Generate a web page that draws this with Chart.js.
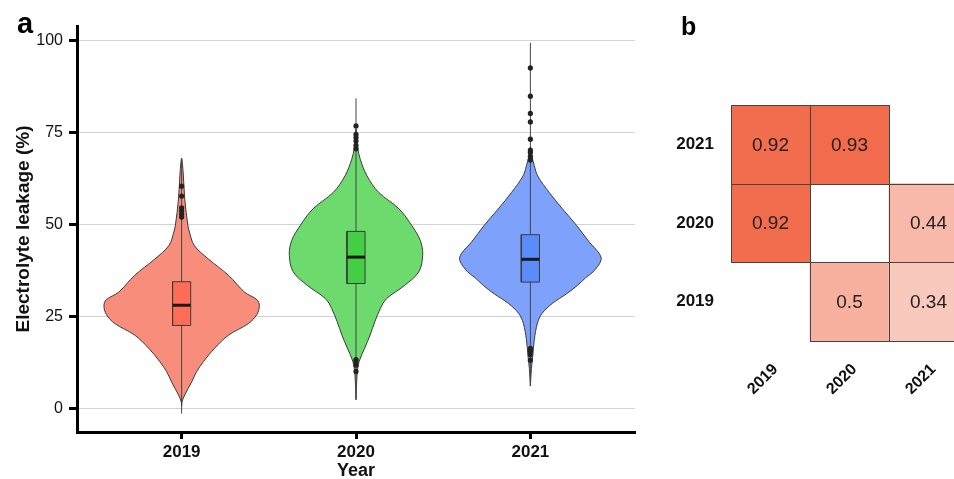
<!DOCTYPE html>
<html>
<head>
<meta charset="utf-8">
<script src="https://cdn.jsdelivr.net/npm/chart.js@4.4.1/dist/chart.umd.min.js"></script>
<style>
  html, body { margin: 0; padding: 0; background: #fff; }
  #wrap { position: relative; width: 954px; height: 479px; overflow: hidden; }
  #violin { position: absolute; left: 0; top: 0; }
  #heat { position: absolute; left: 660px; top: 0; }
</style>
</head>
<body>
<div id="wrap">
  <canvas id="violin" width="660" height="479"></canvas>
  <canvas id="heat" width="308" height="479"></canvas>
</div>
<script>
var years = ['2019', '2020', '2021'];
var yTicks = [0, 25, 50, 75, 100];

// violin outlines: leakage value -> relative density (1 = full half width)
var violinY2019 = [0.5, 1.8, 3.6, 7.2, 9.9, 12.7, 16.3, 19.9, 23, 25.5, 27.9, 29.5, 31.6, 36.1, 40.6, 44.3, 47.9, 49.7, 56.9, 64, 68];
var density2019 = [0, 0.006, 0.04, 0.13, 0.19, 0.28, 0.42, 0.6, 0.85, 0.96, 0.99, 0.96, 0.8, 0.6, 0.34, 0.16, 0.1, 0.08, 0.04, 0.02, 0];
var violinY2020 = [2.3, 9, 12.7, 16.3, 19.9, 23.5, 27.1, 29.8, 33.4, 37.1, 41.6, 45.6, 49.7, 54.2, 58.7, 63.2, 67.7, 71, 76];
var density2020 = [0, 0.013, 0.04, 0.11, 0.18, 0.24, 0.31, 0.39, 0.62, 0.8, 0.85, 0.82, 0.71, 0.55, 0.29, 0.14, 0.055, 0.02, 0];
var violinY2021 = [6, 10.8, 14.1, 18.6, 23.1, 25.8, 28.5, 31.1, 33.4, 35.6, 37.1, 40.2, 42, 45.2, 49.7, 54.2, 58.7, 63.2, 66, 68.5, 71];
var density2021 = [0, 0.013, 0.03, 0.05, 0.09, 0.15, 0.28, 0.46, 0.6, 0.71, 0.8, 0.9, 0.88, 0.75, 0.59, 0.41, 0.24, 0.093, 0.05, 0.02, 0];

// boxplot stats per year
var boxQ1 = [22.5, 33.9, 34.3];
var boxMedian = [28, 41.1, 40.5];
var boxQ3 = [34.4, 48.1, 47.2];
var whiskerLow = [-1.5, 2.3, 6];
var whiskerHigh = [68, 84.3, 99.4];
var outliers2019 = [52, 52.8, 53.7, 54.5, 57.7, 60.4];
var outliers2020 = [10, 11.7, 12.7, 13.2, 70.6, 71.5, 72.7, 73.6, 74.5, 76.8];
var outliers2021 = [13, 14.5, 15.5, 16.3, 67.5, 68.5, 69.6, 70.2, 73.2, 77.9, 80.2, 84.9, 92.6];

// correlation matrix (panel b), rows bottom to top
var heatRow2019 = [null, 0.5, 0.34];
var heatRow2020 = [0.92, null, 0.44];
var heatRow2021 = [0.92, 0.93, null];

var FONT = "'Liberation Sans', Arial, sans-serif";
var VIOLIN_HALF = 0.45;
var BOX_HALF = 0.052;
var violinFill = ['#F98D7B', '#6CDA6C', '#7EA1FB'];
var boxFill = ['#FF6D56', '#43CF43', '#5B8CFB'];

var violinYs = [violinY2019, violinY2020, violinY2021];
var densities = [density2019, density2020, density2021];
var outliers = [outliers2019, outliers2020, outliers2021];

function violinPoints(center, ys, dens) {
    var pts = [];
    for (var i = 0; i < ys.length; i++) pts.push({x: center + dens[i] * VIOLIN_HALF, y: ys[i]});
    for (var j = ys.length - 2; j >= 0; j--) pts.push({x: center - dens[j] * VIOLIN_HALF, y: ys[j]});
    return pts;
}

var datasets = [];
years.forEach(function(y, i) {
    var c = i + 1;
    datasets.push({
        type: 'line', order: 5, data: violinPoints(c, violinYs[i], densities[i]),
        borderColor: '#3a3a3a', borderWidth: 1, backgroundColor: violinFill[i],
        fill: 'shape', tension: 0.35, pointRadius: 0
    });
    datasets.push({
        type: 'line', order: 4,
        data: [{x: c, y: whiskerLow[i]}, {x: c, y: whiskerHigh[i]}],
        borderColor: '#444', borderWidth: 1, pointRadius: 0, fill: false
    });
    datasets.push({
        type: 'line', order: 3,
        data: [{x: c - BOX_HALF, y: boxQ1[i]}, {x: c + BOX_HALF, y: boxQ1[i]},
               {x: c + BOX_HALF, y: boxQ3[i]}, {x: c - BOX_HALF, y: boxQ3[i]},
               {x: c - BOX_HALF, y: boxQ1[i]}],
        borderColor: '#3a3a3a', borderWidth: 1, backgroundColor: boxFill[i],
        fill: 'shape', tension: 0, pointRadius: 0
    });
    datasets.push({
        type: 'line', order: 2,
        data: [{x: c - BOX_HALF, y: boxMedian[i]}, {x: c + BOX_HALF, y: boxMedian[i]}],
        borderColor: '#1a1a1a', borderWidth: 3, pointRadius: 0, fill: false
    });
    datasets.push({
        type: 'scatter', order: 1,
        data: outliers[i].map(function(v) { return {x: c, y: v}; }),
        pointRadius: 2.6, pointBackgroundColor: '#222', pointBorderWidth: 0
    });
});

function panelLabel(text, x, y, size) {
    return {
        id: 'panel' + text,
        afterDraw: function(chart) {
            var ctx = chart.ctx;
            ctx.save();
            ctx.font = 'bold ' + size + 'px ' + FONT;
            ctx.fillStyle = '#000';
            ctx.textBaseline = 'alphabetic';
            ctx.fillText(text, x, y);
            ctx.restore();
        }
    };
}

new Chart(document.getElementById('violin'), {
    type: 'scatter',
    data: { datasets: datasets },
    options: {
        responsive: false,
        animation: false,
        layout: { padding: { top: 26, right: 25, left: 0, bottom: 0 }, autoPadding: false },
        plugins: { legend: { display: false }, tooltip: { enabled: false } },
        scales: {
            x: {
                type: 'linear', min: 0.4, max: 3.6,
                afterBuildTicks: function(s) { s.ticks = years.map(function(y, i) { return {value: i + 1}; }); },
                afterFit: function(s) { s.height = 47; },
                ticks: {
                    callback: function(v) { return years[v - 1]; },
                    font: { family: FONT, size: 17, weight: 'bold' }, color: '#111', padding: 3, maxRotation: 0
                },
                grid: { drawOnChartArea: false, drawTicks: true, tickLength: 7, tickWidth: 3, tickColor: '#000' },
                border: { display: true, color: '#000', width: 3 },
                title: { display: true, text: 'Year', font: { family: FONT, size: 18, weight: 'bold' }, color: '#111', padding: { top: 0, bottom: -3 } }
            },
            y: {
                min: -6.5, max: 104,
                afterBuildTicks: function(s) { s.ticks = yTicks.map(function(v) { return {value: v}; }); },
                afterFit: function(s) { s.width = 77; },
                ticks: { font: { family: FONT, size: 16 }, color: '#111', padding: 6 },
                grid: { color: '#d3d3d3', lineWidth: 1, tickColor: '#000', tickWidth: 3, tickLength: 8 },
                border: { display: true, color: '#000', width: 3 },
                title: { display: true, text: 'Electrolyte leakage (%)', font: { family: FONT, size: 19, weight: 'bold' }, color: '#111', padding: { top: 12, bottom: 0 } }
            }
        }
    },
    plugins: [panelLabel('a', 17, 33, 29)]
});

function heatColor(v) {
    var hi = [240, 96, 62];
    var c = hi.map(function(h) { return Math.round(255 - v * (255 - h)); });
    return 'rgb(' + c.join(',') + ')';
}

var heatRows = [heatRow2019, heatRow2020, heatRow2021];
var heatDatasets = heatRows.map(function(row, r) {
    return {
        data: row.map(function(v) { return v == null ? null : [r, r + 1]; }),
        values: row,
        backgroundColor: row.map(function(v) { return v == null ? 'rgba(0,0,0,0)' : heatColor(v); }),
        borderWidth: 0, barPercentage: 1, categoryPercentage: 1, grouped: false
    };
});

var cellPlugin = {
    id: 'cells',
    afterDatasetsDraw: function(chart) {
        var ctx = chart.ctx;
        ctx.save();
        chart.data.datasets.forEach(function(ds, i) {
            var meta = chart.getDatasetMeta(i);
            meta.data.forEach(function(bar, j) {
                var v = ds.values[j];
                if (v == null) return;
                var p = bar.getProps(['x', 'y', 'base', 'width'], true);
                var l = Math.round(p.x - p.width / 2) + 0.5, r = Math.round(p.x + p.width / 2) + 0.5;
                var t = Math.round(Math.min(p.y, p.base)) + 0.5, b = Math.round(Math.max(p.y, p.base)) + 0.5;
                ctx.strokeStyle = '#444';
                ctx.lineWidth = 1;
                ctx.strokeRect(l, t, r - l, b - t);
                ctx.fillStyle = '#222';
                ctx.font = '19px ' + FONT;
                ctx.textAlign = 'center';
                ctx.textBaseline = 'middle';
                ctx.fillText(String(v), p.x, (p.y + p.base) / 2 + 1);
            });
        });
        ctx.restore();
    }
};

new Chart(document.getElementById('heat'), {
    type: 'bar',
    data: { labels: years, datasets: heatDatasets },
    options: {
        responsive: false,
        animation: false,
        layout: { padding: { top: 105, right: 0, left: 0, bottom: 0 }, autoPadding: false },
        plugins: { legend: { display: false }, tooltip: { enabled: false } },
        scales: {
            x: {
                afterFit: function(s) { s.height = 138; },
                ticks: {
                    font: { family: FONT, size: 16, weight: 'bold' }, color: '#111',
                    minRotation: 45, maxRotation: 45, autoSkip: false, padding: 11, labelOffset: 5
                },
                grid: { display: false }, border: { display: false }
            },
            y: {
                min: 0, max: 3,
                afterBuildTicks: function(s) { s.ticks = years.map(function(y, i) { return {value: i + 0.5}; }); },
                afterFit: function(s) { s.width = 71; },
                ticks: {
                    callback: function(v) { return years[Math.floor(v)]; },
                    font: { family: FONT, size: 17, weight: 'bold' }, color: '#111', padding: 17
                },
                grid: { display: false, drawTicks: false }, border: { display: false }
            }
        }
    },
    plugins: [cellPlugin, panelLabel('b', 21, 35, 25)]
});
</script>
</body>
</html>
